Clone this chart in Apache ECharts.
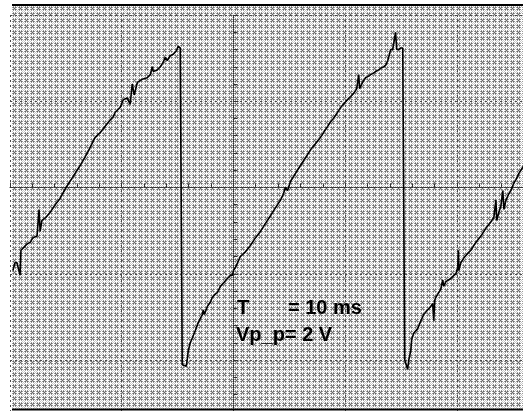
<!DOCTYPE html>
<html>
<head>
<meta charset="utf-8">
<script src="https://cdn.jsdelivr.net/npm/echarts@6/dist/echarts.min.js"></script>
<style>
  html, body { margin: 0; padding: 0; background: #ffffff; }
  #chart { width: 523px; height: 411px; }
</style>
</head>
<body>
<div id="chart"></div>
<script>
// Scope capture: sawtooth, time in ms, voltage in V.
// Each ramp is a list of [time_ms, volts] samples, including the noise spikes.
const ramp1 = [
  [-9.87, -0.53], [-9.78, -0.48], [-9.69, -0.48], [-9.60, -0.53], [-9.55, -0.56],
  [-9.51, -0.40], [-9.37, -0.38], [-9.24, -0.36], [-9.10, -0.35], [-8.97, -0.32],
  [-8.79, -0.31], [-8.70, -0.14], [-8.65, -0.28], [-8.57, -0.21], [-8.39, -0.19],
  [-8.21, -0.16], [-7.98, -0.11], [-7.76, -0.07], [-7.49, 0.00], [-7.22, 0.06],
  [-6.86, 0.14], [-6.50, 0.23], [-6.19, 0.32], [-5.96, 0.35], [-5.74, 0.39],
  [-5.52, 0.43], [-5.38, 0.45], [-5.29, 0.48], [-5.07, 0.51], [-4.93, 0.56],
  [-4.75, 0.57], [-4.62, 0.53], [-4.53, 0.66], [-4.44, 0.59], [-4.30, 0.67],
  [-4.08, 0.69], [-3.86, 0.70], [-3.72, 0.72], [-3.63, 0.77], [-3.59, 0.74],
  [-3.41, 0.75], [-3.27, 0.77], [-3.14, 0.80], [-3.05, 0.83], [-2.96, 0.81],
  [-2.83, 0.84], [-2.69, 0.85], [-2.56, 0.87], [-2.47, 0.90], [-2.38, 0.89],
  [-2.33, 0.89]
];
const ramp2 = [
  [-2.29, -1.13], [-2.24, -1.12], [-2.11, -1.14], [-2.06, -1.09], [-2.02, -1.04],
  [-1.93, -0.99], [-1.84, -0.96], [-1.70, -0.91], [-1.57, -0.86], [-1.39, -0.81],
  [-1.35, -0.78], [-1.30, -0.81], [-1.17, -0.76], [-1.03, -0.73], [-0.94, -0.70],
  [-0.81, -0.68], [-0.72, -0.67], [-0.58, -0.63], [-0.45, -0.61], [-0.27, -0.58],
  [-0.13, -0.56], [-0.04, -0.56], [0.00, -0.53], [0.09, -0.51], [0.22, -0.47],
  [0.31, -0.44], [0.54, -0.41], [0.76, -0.37], [0.99, -0.32], [1.21, -0.28],
  [1.43, -0.23], [1.66, -0.18], [1.88, -0.13], [2.11, -0.08], [2.24, -0.04],
  [2.33, 0.00], [2.42, -0.02], [2.56, 0.04], [2.78, 0.09], [3.00, 0.14],
  [3.23, 0.19], [3.45, 0.24], [3.68, 0.28], [3.90, 0.32], [4.08, 0.36],
  [4.22, 0.39], [4.35, 0.42], [4.48, 0.44], [4.62, 0.47], [4.71, 0.49],
  [4.80, 0.51], [4.98, 0.54], [5.11, 0.56], [5.25, 0.58], [5.38, 0.60],
  [5.52, 0.63], [5.61, 0.72], [5.65, 0.63], [5.78, 0.67], [5.92, 0.70],
  [6.05, 0.71], [6.14, 0.72], [6.28, 0.73], [6.37, 0.74], [6.50, 0.75],
  [6.59, 0.76], [6.73, 0.77], [6.82, 0.78], [6.91, 0.81], [6.95, 0.83],
  [7.04, 0.88], [7.13, 0.88], [7.17, 0.89], [7.26, 0.99], [7.31, 0.88],
  [7.40, 0.88], [7.49, 0.89], [7.58, 0.89], [7.62, 0.89]
];
const ramp3 = [
  [7.67, -1.10], [7.71, -1.11], [7.80, -1.16], [7.85, -1.10], [7.94, -1.04],
  [7.98, -0.97], [8.07, -0.93], [8.25, -0.90], [8.39, -0.85], [8.52, -0.81],
  [8.70, -0.78], [8.83, -0.76], [8.92, -0.74], [8.97, -0.85], [9.01, -0.72],
  [9.06, -0.70], [9.19, -0.67], [9.28, -0.65], [9.37, -0.59], [9.42, -0.63],
  [9.51, -0.60], [9.73, -0.58], [9.87, -0.56], [9.96, -0.55], [10.04, -0.51],
  [10.07, -0.40], [10.09, -0.53], [10.18, -0.48], [10.31, -0.45], [10.49, -0.42],
  [10.63, -0.40], [10.85, -0.35], [11.08, -0.31], [11.30, -0.26], [11.52, -0.22],
  [11.66, -0.19], [11.75, -0.08], [11.79, -0.21], [11.88, -0.16], [11.97, -0.12],
  [12.06, -0.02], [12.11, -0.14], [12.20, -0.08], [12.33, -0.04], [12.42, -0.02],
  [12.56, 0.03], [12.65, 0.05], [12.78, 0.09], [12.87, 0.11], [13.00, 0.14],
  [13.09, 0.16]
];

// Readout text
const readoutPeriod = ['T', '= 10 ms'];
const readoutVpp = 'Vp_p= 2 V';

// Graticule: 5 ms per division horizontally, 0.55 V per division vertically
const msPerDiv = 5;
const voltsPerDiv = 0.55;
const timeRange = [-10, 15];
const voltRange = [-3 * voltsPerDiv, 2 * voltsPerDiv];

const trace = ramp1.concat(ramp2, ramp3);

// Dithered screen texture
function makeDither() {
  const c = document.createElement('canvas');
  c.width = 6; c.height = 6;
  const ctx = c.getContext('2d');
  const W = '#ffffff', L = '#c8c8c8', G = '#9a9a9a', D = '#666666';
  const rows = [
    [W, G, W, G, W, L],
    [G, D, L, D, G, W],
    [W, L, D, L, W, W],
    [G, D, L, D, G, W],
    [W, G, W, G, W, L],
    [L, W, W, W, L, W]
  ];
  rows.forEach((row, y) => row.forEach((col, x) => {
    ctx.fillStyle = col; ctx.fillRect(x, y, 1, 1);
  }));
  return c;
}

const chart = echarts.init(document.getElementById('chart'), null, { renderer: 'canvas' });

const tickStyle = { color: '#333333', width: 1 };
const gridLine = { show: true, lineStyle: { color: '#4a4a4a', width: 1, type: [2, 3] } };
const centreLine = { show: true, onZero: true, lineStyle: { color: '#333333', width: 1, type: [1, 1] } };

chart.setOption({
  animation: false,
  backgroundColor: '#ffffff',
  grid: {
    left: 10, top: 15, right: -45.5, bottom: -35.25,
    containLabel: false, outerBoundsMode: 'none'
  },
  xAxis: {
    type: 'value',
    min: timeRange[0], max: timeRange[1], interval: msPerDiv,
    axisLabel: { show: false },
    axisLine: centreLine,
    axisTick: { show: true, inside: true, length: 5, lineStyle: tickStyle },
    minorTick: { show: true, splitNumber: 5, length: 4, lineStyle: tickStyle },
    splitLine: gridLine
  },
  yAxis: {
    type: 'value',
    min: voltRange[0], max: voltRange[1], interval: voltsPerDiv,
    axisLabel: { show: false },
    axisLine: centreLine,
    axisTick: { show: true, inside: true, length: 5, lineStyle: tickStyle },
    minorTick: { show: true, splitNumber: 5, length: 4, lineStyle: tickStyle },
    splitLine: gridLine
  },
  graphic: [
    {
      type: 'rect', z: -10, silent: true,
      shape: { x: 12, y: 5, width: 511, height: 405 },
      style: { fill: { image: makeDither(), repeat: 'repeat' } }
    },
    {
      type: 'line', z: 100, silent: true,
      shape: { x1: 12, y1: 5, x2: 523, y2: 5 },
      style: { stroke: '#000000', lineWidth: 2 }
    },
    {
      type: 'line', z: 100, silent: true,
      shape: { x1: 12, y1: 409.5, x2: 523, y2: 409.5 },
      style: { stroke: '#000000', lineWidth: 2 }
    },
    {
      type: 'text', z: 100, silent: true, left: 237, top: 298,
      style: { text: readoutPeriod[0], fill: '#000000', font: 'bold 20px "Liberation Sans", Arial, sans-serif' }
    },
    {
      type: 'text', z: 100, silent: true, left: 288, top: 298,
      style: { text: readoutPeriod[1], fill: '#000000', font: 'bold 20px "Liberation Sans", Arial, sans-serif' }
    },
    {
      type: 'text', z: 100, silent: true, left: 236, top: 325,
      style: { text: readoutVpp, fill: '#000000', font: 'bold 20px "Liberation Sans", Arial, sans-serif' }
    }
  ],
  series: [{
    type: 'line',
    data: trace,
    showSymbol: false,
    symbol: 'none',
    clip: true,
    lineStyle: { color: '#000000', width: 1.6 },
    z: 5
  }]
});
</script>
</body>
</html>
